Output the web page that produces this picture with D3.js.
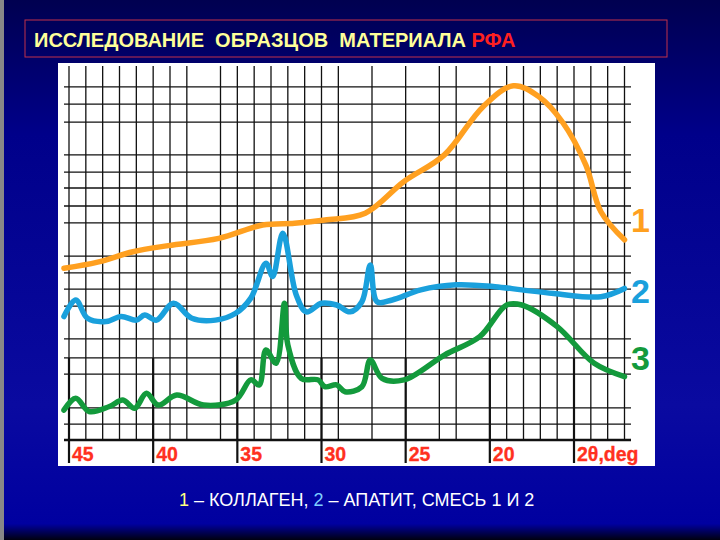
<!DOCTYPE html>
<html><head><meta charset="utf-8">
<script src="https://cdn.jsdelivr.net/npm/d3@7"></script>
<style>body{margin:0;background:#000;}svg{display:block;}text{white-space:pre;}</style>
</head><body>
<svg id="canvas" width="720" height="540"></svg>
<script>
// 2θ (deg) / intensity
let collagen = [[45.3,47.7],[43.3,49.4],[41.2,52.3],[39.1,54.0],[36.1,56.0],[33.5,59.7],[31.6,60.2],[29.8,61.1],[27.4,63.0],[25.1,71.8],[22.7,79.2],[20.4,92.6],[18.6,98.4],[17.1,95.4],[15.7,88.4],[14.3,76.4],[13.4,63.4],[12.0,55.6]];
let apatite = [[45.3,34.3],[44.6,38.9],[43.9,33.8],[42.8,32.9],[41.9,34.3],[41.0,33.3],[40.5,34.7],[39.8,33.3],[38.8,38.0],[37.7,33.8],[36.3,33.3],[35.1,35.2],[34.2,39.4],[33.3,49.1],[32.9,45.4],[32.3,57.4],[31.5,40.3],[30.9,35.6],[30.0,38.0],[29.1,37.5],[28.3,35.6],[27.6,38.4],[27.1,48.6],[26.7,38.4],[25.8,38.9],[24.1,41.7],[22.0,43.1],[19.7,42.6],[18.1,41.7],[16.2,40.7],[13.4,39.8],[12.0,42.1]];
let mixture = [[45.3,8.3],[44.6,11.6],[43.8,7.9],[42.6,9.3],[41.8,11.1],[41.1,8.8],[40.4,13.0],[39.7,9.7],[38.6,12.5],[37.0,9.7],[35.1,11.1],[34.2,16.7],[33.7,15.3],[33.3,25.0],[32.7,21.3],[32.2,38.0],[32.0,26.4],[31.2,17.1],[30.2,16.7],[29.8,14.8],[29.1,15.3],[28.6,13.4],[27.6,14.8],[27.1,22.2],[26.4,17.1],[25.1,16.7],[22.7,23.6],[20.6,28.7],[19.0,37.5],[18.1,37.5],[16.0,31.5],[13.8,21.3],[12.0,17.6]];
let tickLabels = ['45','40','35','30','25','20','2θ,deg'];
let tickValues = [45,40,35,30,25,20,15];
let gridX = [45,44,43,42,41,40,39,38,36,35,34,33,32,31,30,29,27,25,23,22,20,19,18,17,16,15,14,13,12];
let gridY = [98.1,93.3,88.3,79.2,74.4,70,65,60.3,51.1,46.4,41.9,37.2,28.1,22.8,18.3,8.9,4.4];

let svg = d3.select('#canvas');
let defs = svg.append('defs');
let bg = defs.append('linearGradient').attr('id','bg').attr('x1',0).attr('y1',0).attr('x2',0).attr('y2',1);
bg.append('stop').attr('offset','0%').attr('stop-color','#000050');
bg.append('stop').attr('offset','25%').attr('stop-color','#00008a');
bg.append('stop').attr('offset','75%').attr('stop-color','#0a0aa0');
bg.append('stop').attr('offset','97%').attr('stop-color','#0000a0');
bg.append('stop').attr('offset','100%').attr('stop-color','#000010');
svg.append('rect').attr('width',720).attr('height',540).attr('fill','url(#bg)');
svg.append('rect').attr('x',0).attr('y',0).attr('width',4).attr('height',540).attr('fill','#888');

// title
svg.append('rect').attr('x',25).attr('y',20).attr('width',642).attr('height',37)
  .attr('fill','none').attr('stroke','#c0304a').attr('stroke-width',1);
let title = svg.append('text').attr('x',34).attr('y',47)
  .attr('font-family','Liberation Sans, Arial, sans-serif').attr('font-weight','bold').attr('font-size',20);
title.append('tspan').attr('fill','#ffff99').text('ИССЛЕДОВАНИЕ  ОБРАЗЦОВ  МАТЕРИАЛА ');
title.append('tspan').attr('fill','#ff2020').text('РФА');

// panel
svg.append('rect').attr('x',58).attr('y',63).attr('width',597).attr('height',403).attr('fill','#fff');

let x = d3.scaleLinear().domain([45,15]).range([69,574]);
let y = d3.scaleLinear().domain([0,100]).range([440,80]);

let g = svg.append('g');
g.selectAll('.hg').data(gridY).enter().append('line')
  .attr('x1',64).attr('x2',631).attr('y1',d=>y(d)).attr('y2',d=>y(d))
  .attr('stroke','#111').attr('stroke-width',1.3);
g.selectAll('.vg').data(gridX).enter().append('line')
  .attr('x1',d=>x(d)).attr('x2',d=>x(d)).attr('y1',66).attr('y2',440)
  .attr('stroke','#111').attr('stroke-width',1.3);
g.selectAll('.tk').data(tickValues).enter().append('line')
  .attr('x1',d=>x(d)).attr('x2',d=>x(d)).attr('y1',358).attr('y2',463)
  .attr('stroke','#111').attr('stroke-width',2.2);
g.append('line').attr('x1',64).attr('x2',631).attr('y1',y(0)).attr('y2',y(0))
  .attr('stroke','#111').attr('stroke-width',2.5);

g.selectAll('.tl').data(tickValues).enter().append('text')
  .attr('x',d=>x(d)+3).attr('y',461)
  .attr('font-family','Liberation Sans, Arial, sans-serif').attr('font-weight','bold').attr('font-size',19.5)
  .attr('fill','#ff3020').attr('stroke','#ff3020').attr('stroke-width',0.3)
  .text((d,i)=>tickLabels[i]);

let line = d3.line().x(d=>x(d[0])).y(d=>y(d[1])).curve(d3.curveCatmullRom);
let series = [
  {data:collagen, color:'#ffa020', label:'1', ly:232},
  {data:apatite, color:'#1aa0dc', label:'2', ly:303},
  {data:mixture, color:'#139a3c', label:'3', ly:370}
];
series.forEach(s => {
  svg.append('path').attr('d',line(s.data)).attr('fill','none')
    .attr('stroke',s.color).attr('stroke-width',5.5).attr('stroke-linejoin','round').attr('stroke-linecap','round');
  svg.append('text').attr('x',631).attr('y',s.ly)
    .attr('font-family','Liberation Sans, Arial, sans-serif').attr('font-weight','bold').attr('font-size',34)
    .attr('fill',s.color).text(s.label);
});

// legend
let leg = svg.append('text').attr('x',179).attr('y',506)
  .attr('font-family','Liberation Sans, Arial, sans-serif').attr('font-size',18).attr('fill','#fff');
leg.append('tspan').attr('fill','#ffff80').text('1');
leg.append('tspan').text(' – КОЛЛАГЕН, ');
leg.append('tspan').attr('fill','#7fd0ff').text('2');
leg.append('tspan').text(' – АПАТИТ, СМЕСЬ 1 И 2');
</script>
</body></html>
